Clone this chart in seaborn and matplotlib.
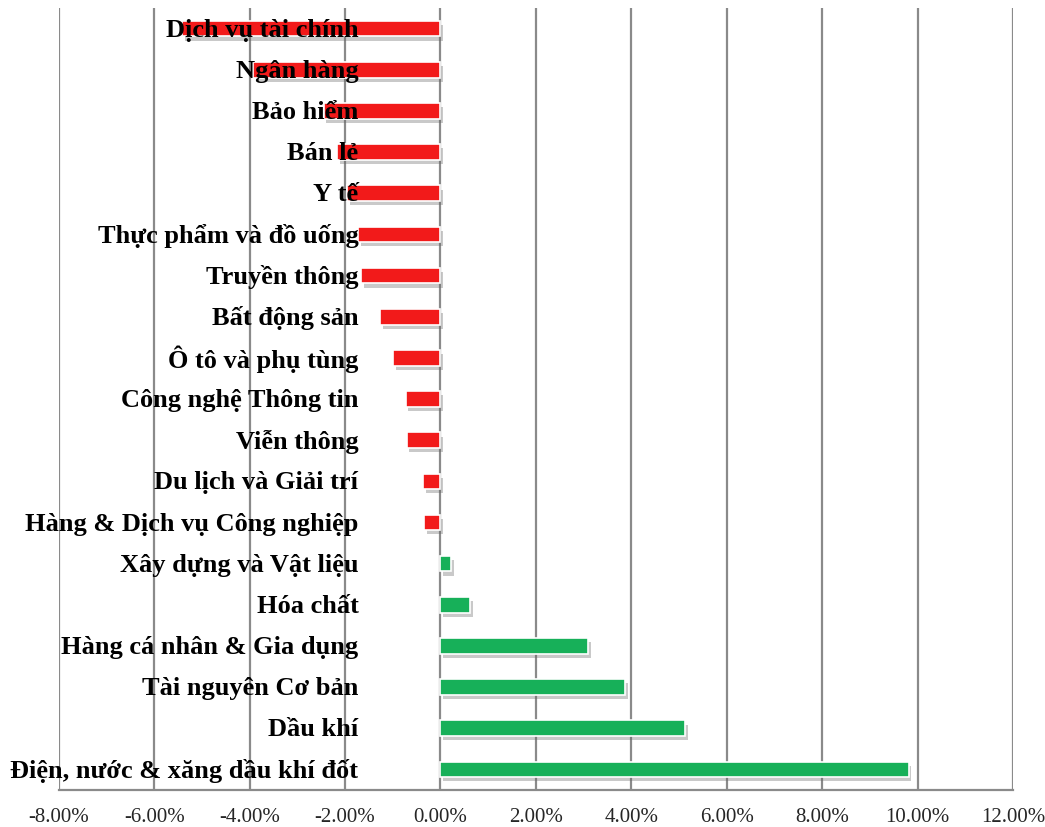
import pandas as pd
import numpy as np
import matplotlib
matplotlib.use("Agg")
import matplotlib.pyplot as plt
import matplotlib.patheffects as pe
from matplotlib.ticker import FuncFormatter
import seaborn as sns

# Data (% change by sector)
sectors = [
    "Dịch vụ tài chính", "Ngân hàng", "Bảo hiểm", "Bán lẻ", "Y tế",
    "Thực phẩm và đồ uống", "Truyền thông", "Bất động sản", "Ô tô và phụ tùng",
    "Công nghệ Thông tin", "Viễn thông", "Du lịch và Giải trí",
    "Hàng & Dịch vụ Công nghiệp", "Xây dựng và Vật liệu", "Hóa chất",
    "Hàng cá nhân & Gia dụng", "Tài nguyên Cơ bản", "Dầu khí",
    "Điện, nước & xăng dầu khí đốt",
]
changes = [
    -5.42, -3.92, -2.45, -2.16, -1.95,
    -1.72, -1.66, -1.26, -0.99,
    -0.73, -0.71, -0.36,
    -0.34, 0.22, 0.62,
    3.10, 3.87, 5.12,
    9.81,
]
x_ticks = [-8, -6, -4, -2, 0, 2, 4, 6, 8, 10, 12]

df = pd.DataFrame({"sector": sectors, "change": changes})
df["sign"] = np.where(df["change"] < 0, "down", "up")

sns.set_style("white")
plt.rcParams["font.family"] = ["Liberation Serif", "DejaVu Serif"]

fig = plt.figure(figsize=(10.45, 8.27), dpi=100)
ax = fig.add_axes([0.0562, 0.0447, 0.9132, 0.9456])

sns.barplot(data=df, x="change", y="sector", hue="sign",
            palette={"down": "#F21A1A", "up": "#17B059"}, saturation=1,
            orient="h", width=0.38, dodge=False, legend=False,
            edgecolor="white", linewidth=1.2, ax=ax, zorder=3)

# soft drop shadow under each bar
for bar in ax.patches:
    bar.set_path_effects([pe.SimplePatchShadow(offset=(2, -3), shadow_rgbFace="#666666", alpha=0.35),
                          pe.Normal()])

ax.set_xlim(-8, 12)
ax.set_ylim(len(sectors) - 0.5, -0.5)
ax.set_xticks(x_ticks)
ax.xaxis.set_major_formatter(FuncFormatter(lambda v, p: f"{v:.2f}%"))
ax.tick_params(axis="x", length=0, pad=13, labelsize=15)
ax.set_yticks([])
ax.set_xlabel("")
ax.set_ylabel("")

ax.grid(axis="x", color="#8a8a8a", linewidth=1.6, zorder=0)
ax.set_axisbelow(True)
for side in ["top", "right", "left"]:
    ax.spines[side].set_visible(False)
ax.spines["bottom"].set_color("#8a8a8a")
ax.spines["bottom"].set_linewidth(1.6)

# category labels sit inside the plot, right-aligned near -1.7%
for i, name in enumerate(sectors):
    ax.text(-1.72, i + 0.04, name, ha="right", va="center", fontsize=19,
            fontweight="bold", color="black", zorder=5)

plt.savefig("out.png", dpi=100)
